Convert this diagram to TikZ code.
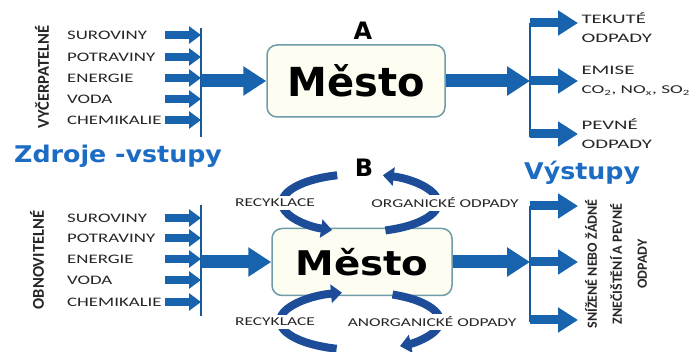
\documentclass[tikz,border=0pt]{standalone}
\usepackage{fontspec}
\usepackage{xcolor}
\usepackage{tikz}
\usetikzlibrary{arrows.meta,positioning}
\setmainfont{Carlito}
\newfontfamily\lblfont[FakeStretch=1.45]{Carlito}
\newfontfamily\vertfont{Carlito}
\newfontfamily\headfont[FakeStretch=1.1]{DejaVu Sans}
\newfontfamily\cityfont{DejaVu Sans}
\newfontfamily\citywide[FakeStretch=1.14]{DejaVu Sans}
\definecolor{arrowblue}{HTML}{1763AE}
\definecolor{recblue}{HTML}{1D4C98}
\definecolor{busblue}{HTML}{1A5898}
\definecolor{titleblue}{HTML}{1B6CC2}
\definecolor{boxline}{HTML}{6E9CA8}
\definecolor{boxfill}{HTML}{FEFDF2}
\definecolor{txtgray}{HTML}{262626}

\tikzset{
  city/.style={draw=boxline, line width=1.5pt, fill=boxfill, rounded corners=10pt},
  lbl/.style={font=\lblfont\fontsize{13}{15}\selectfont, text=txtgray, anchor=west, inner sep=0pt},
  rlbl/.style={font=\vertfont\fontsize{13}{19}\selectfont, text=txtgray, anchor=west, inner sep=2pt, align=left, xscale=1.6},
  rec/.style={font=\lblfont\fontsize{12}{14}\selectfont, text=txtgray, fill=white, inner sep=3pt},
  vert/.style={font=\vertfont\bfseries\fontsize{16.5}{19}\selectfont, text=txtgray, rotate=90, inner sep=0pt},
  vertr/.style={font=\vertfont\bfseries\fontsize{14}{25}\selectfont, text=txtgray, rotate=90, inner sep=0pt, align=center},
  head/.style={font=\cityfont\bfseries\fontsize{24}{24}\selectfont, anchor=base, inner sep=0pt},
  title/.style={font=\headfont\bfseries\fontsize{23}{23}\selectfont, text=titleblue, anchor=base west, inner sep=0pt},
  bus/.style={draw=busblue, line width=1.6pt},
  inarrow/.style={draw=arrowblue, line width=8pt, -{Triangle[length=12pt,width=17pt]}},
  bigarrow/.style={draw=arrowblue, line width=13pt, -{Triangle[length=23pt,width=28pt]}},
  outarrow/.style={draw=arrowblue, line width=9pt, -{Triangle[length=20pt,width=24pt]}},
  recarrow/.style={draw=recblue, line width=8pt, -{Triangle[length=11pt,width=18pt]}}
}

\begin{document}
\begin{tikzpicture}[x=1pt,y=-1pt]
	\useasboundingbox[fill=white] (0,0) rectangle (693,352);

	% Define nodes
	\node[city, minimum width=178pt, minimum height=72pt, font=\cityfont\bfseries\fontsize{40}{40}\selectfont] (mA) at (356,81) {Město};
	\node[city, minimum width=180pt, minimum height=67pt, font=\citywide\bfseries\fontsize{34}{34}\selectfont] (mB) at (362,262) {Město};
	\node[head] (A) at (363,40) {A};
	\node[head] (B) at (364,177) {B};

	\node[vert] (vyc) at (42,77) {VYČERPATELNÉ};
	\node[lbl] (s1) at (67,35)  {SUROVINY};
	\node[lbl] (p1) at (67,57)  {POTRAVINY};
	\node[lbl] (e1) at (67,78)  {ENERGIE};
	\node[lbl] (v1) at (67,99)  {VODA};
	\node[lbl] (c1) at (67,120) {CHEMIKALIE};

	\node[vert] (obn) at (37,260) {OBNOVITELNÉ};
	\node[lbl] (s2) at (67,218) {SUROVINY};
	\node[lbl] (p2) at (67,238) {POTRAVINY};
	\node[lbl] (e2) at (67,259) {ENERGIE};
	\node[lbl] (v2) at (67,280) {VODA};
	\node[lbl] (c2) at (67,302) {CHEMIKALIE};

	\node[title] (zdr) at (14,163) {Zdroje -vstupy};
	\node[title] (vys) at (524,180) {Výstupy};

	\node[rlbl] (t1) at (578,28)  {TEKUTÉ\\ODPADY};
	\node[rlbl] (t2) at (578,81)  {EMISE\\{\fontsize{12}{14}\selectfont CO\textsubscript{2}, NO\textsubscript{x}, SO\textsubscript{2}}};
	\node[rlbl] (t3) at (578,134) {PEVNÉ\\ODPADY};
	\node[vertr] (snz) at (616,264) {SNÍŽENÉ NEBO ŽÁDNÉ\\ZNEČIŠTĚNÍ A PEVNÉ\\ODPADY};

	\coordinate (in) at (165,0);
	\coordinate (bus) at (201,0);
	\coordinate (out) at (530,0);
	\coordinate (tip) at (578,0);
	\coordinate (ctop) at (360,203);
	\coordinate (cbot) at (360,321);

	% Buses
	\draw[bus] (201,28) coordinate (b1t) -- (201,137) coordinate (b1b);
	\draw[bus] (201,205) coordinate (b2t) -- (201,316) coordinate (b2b);
	\draw[bus] (530,23) coordinate (o1t) -- (530,137) coordinate (o1b);
	\draw[bus] (530,206) coordinate (o2t) -- (530,322) coordinate (o2b);

	% Edges
	\foreach \n in {s1,p1,e1,v1,c1,s2,p2,e2,v2,c2}
		\draw[inarrow] (\n.west -| in) -- (\n.west -| bus);
	\draw[bigarrow] (mA.west -| bus) -- (mA.west);
	\draw[bigarrow] (mB.west -| bus) -- (mB.west);
	\draw[bigarrow] (mA.east) -- (mA.east -| out);
	\draw[bigarrow] (mB.east) -- (mB.east -| out);
	\draw[outarrow] (o1t) -- (o1t -| tip);
	\draw[outarrow] (mA.east -| out) -- (mA.east -| tip);
	\draw[outarrow] (o1b) ++(0,-3) coordinate (o1c) -- (o1c -| tip);
	\draw[outarrow] (o2t) -- (o2t -| tip);
	\draw[outarrow] (mB.east -| out) -- (mB.east -| tip);
	\draw[outarrow] (o2b) ++(0,-2) coordinate (o2c) -- (o2c -| tip);

	% Recycling loops
	\draw[recarrow] (ctop) ++(-107:78 and 29) arc[start angle=-107, end angle=-249, x radius=78, y radius=29];
	\draw[recarrow] (ctop) ++(71:78 and 29) arc[start angle=71, end angle=-73, x radius=78, y radius=29];
	\draw[recarrow] (cbot) ++(-253:80 and 29) arc[start angle=-253, end angle=-103, x radius=80, y radius=29];
	\draw[recarrow] (cbot) ++(-66:80 and 29) arc[start angle=-66, end angle=60, x radius=80, y radius=29];

	\node[rec] (r1) at (275,203) {RECYKLACE};
	\node[rec] (g1) at (445,203) {ORGANICKÉ ODPADY};
	\node[rec] (r2) at (275,322) {RECYKLACE};
	\node[rec] (g2) at (432,322) {ANORGANICKÉ ODPADY};
\end{tikzpicture}
\end{document}
